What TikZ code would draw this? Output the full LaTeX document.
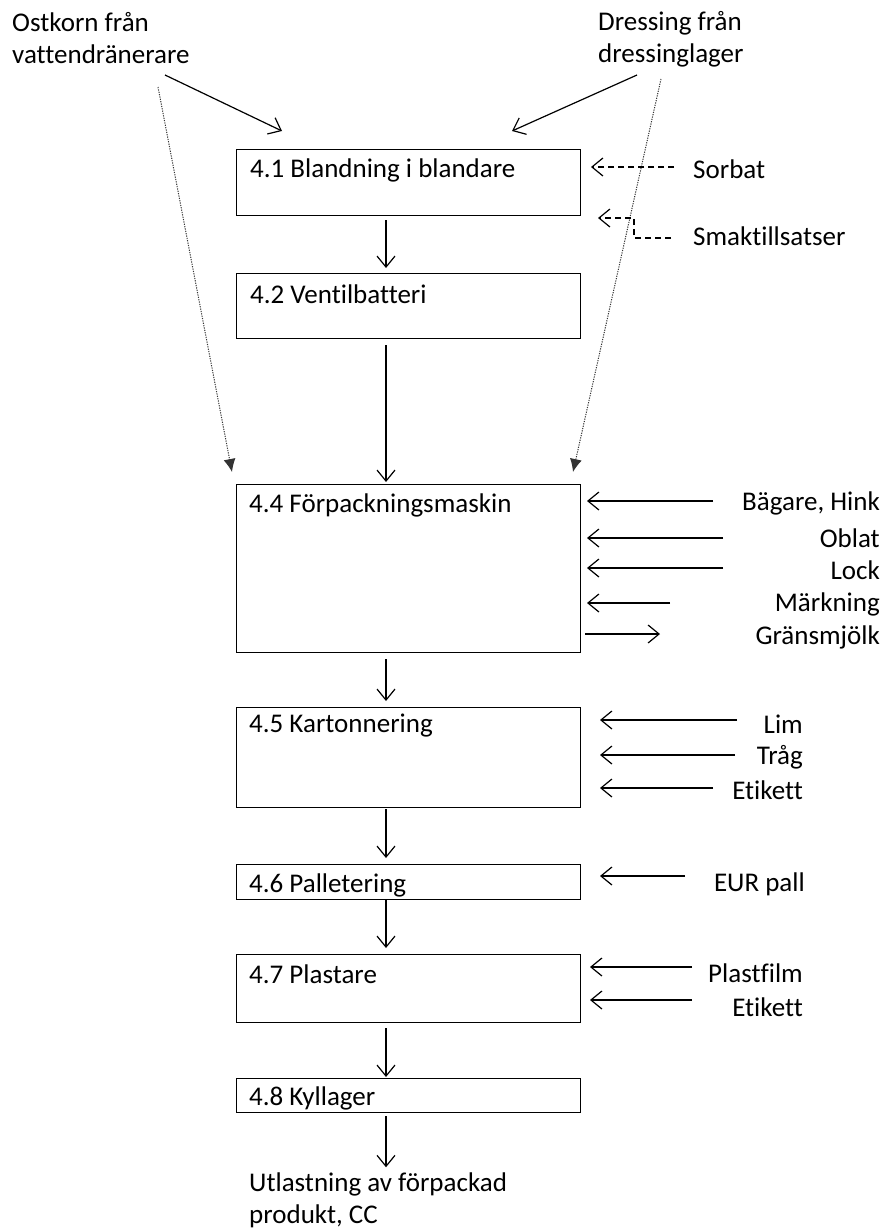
\documentclass[tikz,border=0pt]{standalone}
\usepackage{fontspec}
\setmainfont{Carlito}[Ligatures={NoCommon}]
\usetikzlibrary{arrows.meta,calc}
\begin{document}
\begin{tikzpicture}[x=1pt,y=-1pt,
  font=\fontsize{27}{32}\selectfont,
  box/.style={draw, line width=1.3pt, minimum width=344pt, inner sep=0pt, anchor=north west},
  txt/.style={inner sep=0pt, anchor=west},
  rtxt/.style={inner sep=0pt, anchor=east},
  mtxt/.style={inner sep=0pt, anchor=west, align=left},
  arr/.style={line width=1.2pt, -{Straight Barb[length=11pt,width=18pt,line width=1.2pt]}},
  darr/.style={arr, dash pattern=on 6pt off 4pt},
  dotarr/.style={line width=1pt, dash pattern=on 1.2pt off 1.2pt, black!80, -{Latex[length=13pt,width=12pt]}}]
\useasboundingbox (0,0) rectangle (888,1231);

% top inputs
\node[mtxt] (ostkorn) at (12,38) {Ostkorn från\\vattendränerare};
\node[mtxt] (dressing) at (598,39) {Dressing från\\dressinglager};

% boxes
\node[box, minimum height=66pt] (b41) at (236,149) {};
\node[box, minimum height=65pt] (b42) at (236,273) {};
\node[box, minimum height=168pt] (b44) at (236,484) {};
\node[box, minimum height=100pt] (b45) at (236,707) {};
\node[box, minimum height=35pt] (b46) at (236,864) {};
\node[box, minimum height=68pt] (b47) at (236,954) {};
\node[box, minimum height=34pt] (b48) at (236,1078) {};

\node[txt] (t41) at (250,170) {4.1 Blandning i blandare};
\node[txt] (t42) at (250,294) {4.2 Ventilbatteri};
\node[txt] (t44) at (249,505) {4.4 Förpackningsmaskin};
\node[txt] (t45) at (249,726) {4.5 Kartonnering};
\node[txt] (t46) at (249,885) {4.6 Palletering};
\node[txt] (t47) at (249,974) {4.7 Plastare};
\node[txt] (t48) at (249,1098) {4.8 Kyllager};

\node[mtxt] (out) at (249,1200) {Utlastning av förpackad\\produkt, CC};

% main flow axis
\coordinate (ax) at (386,0);
\draw[arr] ($(b41.south -| ax)+(0,4)$) -- ($(b42.north -| ax)+(0,-5)$);
\draw[arr] ($(b42.south -| ax)+(0,6)$) -- ($(b44.north -| ax)+(0,-2)$);
\draw[arr] ($(b44.south -| ax)+(0,6)$) -- ($(b45.north -| ax)+(0,-6)$);
\draw[arr] ($(b45.south -| ax)+(0,1)$) -- ($(b46.north -| ax)+(0,-6)$);
\draw[arr] ($(b46.south -| ax)$) -- ($(b47.north -| ax)+(0,-6)$);
\draw[arr] ($(b47.south -| ax)+(0,5)$) -- ($(b48.north -| ax)+(0,-1)$);
\draw[arr] ($(b48.south -| ax)+(0,3)$) -- ($(out.north -| ax)+(0,-5)$);

% top arrows
\coordinate (oa) at (165,75);
\coordinate (ob) at (282,131);
\coordinate (da) at (637,75);
\coordinate (db) at (512,131);
\draw[arr] (oa) -- (ob);
\draw[arr] (da) -- (db);

% dotted bypass
\coordinate (la) at (158,87);
\coordinate (lb) at (232,472);
\coordinate (ra) at (661,79);
\coordinate (rb) at (573,472);
\draw[dotarr] (la) -- (lb);
\draw[dotarr] (ra) -- (rb);

% additives to 4.1
\node[txt] (sorbat) at (693,169) {Sorbat};
\node[txt] (smak) at (693,236) {Smaktillsatser};
\coordinate (sa) at (674,167);
\coordinate (sb) at (591,167);
\draw[darr] (sa) -- (sb);
\coordinate (ma) at (671,238);
\coordinate (mk) at (634,238);
\coordinate (mb) at (598,218);
\draw[darr] (ma) -- (mk) |- (mb);

% 4.4 inputs
\node[rtxt] (bagare) at (880,503) {Bägare, Hink};
\node[rtxt] (oblat) at (880,538) {Oblat};
\node[rtxt] (lock) at (880,570) {Lock};
\node[rtxt] (mark) at (880,604) {Märkning};
\node[rtxt] (grans) at (880,637) {Gränsmjölk};
\coordinate (ba) at (713,501);
\coordinate (bb) at (587,501);
\coordinate (oa2) at (723,538);
\coordinate (ob2) at (587,538);
\coordinate (lka) at (723,568);
\coordinate (lkb) at (587,568);
\coordinate (mka) at (670,603);
\coordinate (mkb) at (587,603);
\coordinate (ga) at (585,634);
\coordinate (gb) at (660,634);
\draw[arr] (ba) -- (bb);
\draw[arr] (oa2) -- (ob2);
\draw[arr] (lka) -- (lkb);
\draw[arr] (mka) -- (mkb);
\draw[arr] (ga) -- (gb);

% 4.5 inputs
\node[rtxt] (lim) at (803,724) {Lim};
\node[rtxt] (trag) at (803,757) {Tråg};
\node[rtxt] (etik1) at (803,790) {Etikett};
\coordinate (lia) at (737,720);
\coordinate (lib) at (600,720);
\coordinate (tra) at (735,755);
\coordinate (trb) at (600,755);
\coordinate (e1a) at (713,788);
\coordinate (e1b) at (600,788);
\draw[arr] (lia) -- (lib);
\draw[arr] (tra) -- (trb);
\draw[arr] (e1a) -- (e1b);

% 4.6 input
\node[rtxt] (eur) at (805,884) {EUR pall};
\coordinate (eua) at (685,876);
\coordinate (eub) at (600,876);
\draw[arr] (eua) -- (eub);

% 4.7 inputs
\node[rtxt] (plast) at (803,973) {Plastfilm};
\node[rtxt] (etik2) at (803,1007) {Etikett};
\coordinate (pa) at (692,967);
\coordinate (pb) at (590,967);
\coordinate (e2a) at (692,1000);
\coordinate (e2b) at (590,1000);
\draw[arr] (pa) -- (pb);
\draw[arr] (e2a) -- (e2b);
\end{tikzpicture}
\end{document}
